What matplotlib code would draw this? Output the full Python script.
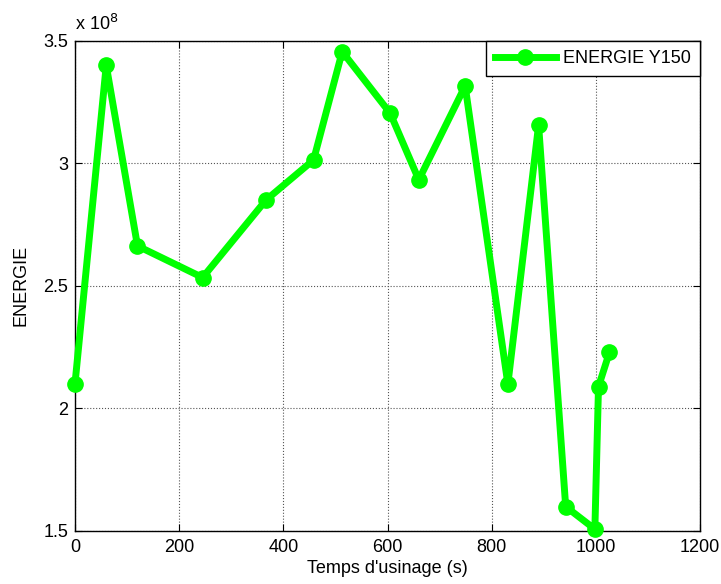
import matplotlib
matplotlib.use("Agg")
import matplotlib.pyplot as plt
from matplotlib.ticker import FuncFormatter

plt.rcParams['font.family'] = ['Liberation Sans', 'DejaVu Sans']

# temps d'usinage (s) et energie mesuree
temps = [0, 60, 120, 245, 367, 458, 513, 605, 660, 749, 831, 890, 942, 998, 1005, 1026]
energie = [2.10e8, 3.40e8, 2.663e8, 2.534e8, 2.851e8, 3.014e8, 3.456e8, 3.205e8,
           2.933e8, 3.316e8, 2.099e8, 3.156e8, 1.599e8, 1.507e8, 2.089e8, 2.229e8]
x_ticks = [0, 200, 400, 600, 800, 1000, 1200]
y_ticks = [1.5e8, 2.0e8, 2.5e8, 3.0e8, 3.5e8]

fs = 13

fig = plt.figure(figsize=(7.21, 5.84), dpi=100)
ax = fig.add_axes([0.104, 0.091, 0.867, 0.839])

ax.plot(temps, energie, color='#00ff00', lw=5, marker='o', ms=11,
        label='ENERGIE Y150', clip_on=False, zorder=3)

ax.set_xlim(0, 1200)
ax.set_ylim(1.5e8, 3.5e8)
ax.set_xticks(x_ticks)
ax.set_yticks(y_ticks)
ax.yaxis.set_major_formatter(FuncFormatter(lambda v, _: f"{v / 1e8:g}"))
ax.tick_params(direction='in', top=True, right=True, labelsize=fs, length=5, width=0.8)
ax.tick_params(axis='x', pad=6)
ax.tick_params(axis='y', pad=5)
ax.grid(True, color='#555555', linestyle=':', linewidth=0.8)
for s in ax.spines.values():
    s.set_linewidth(1.0)

ax.text(0.0, 1.015, 'x 10$^{8}$', transform=ax.transAxes, fontsize=fs,
        ha='left', va='bottom')
ax.set_xlabel("Temps d'usinage (s)", fontsize=fs, labelpad=3)
ax.set_ylabel('ENERGIE', fontsize=fs, labelpad=10)

leg = ax.legend(loc='upper right', fontsize=fs, fancybox=False, framealpha=1,
                edgecolor='black', borderaxespad=0, handlelength=3.4,
                borderpad=0.5, handletextpad=0.4)
leg.get_frame().set_linewidth(1.0)

fig.savefig('out.png', dpi=100)
